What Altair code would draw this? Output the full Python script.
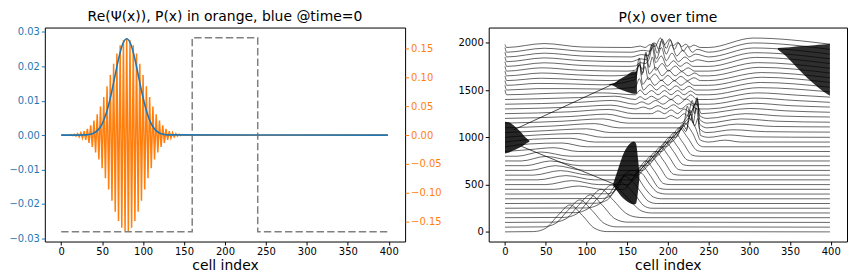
import altair as alt
import pandas as pd

# ---------------- left panel data ----------------
P_X = [0, 30, 35, 40, 45, 50, 55, 60, 65, 70, 75, 80, 85, 90, 95, 100, 105, 110, 115, 120, 125, 130, 399]
P_Y = [0, 0.00007, 0.00023, 0.00062, 0.00152, 0.00329, 0.00633, 0.01082, 0.01640, 0.02208, 0.02638, 0.02800,
       0.02638, 0.02208, 0.01640, 0.01082, 0.00633, 0.00329, 0.00152, 0.00062, 0.00023, 0.00007, 0]

RE_X = [0] + list(range(10, 152, 2)) + [399]
RE_Y = [0,
        -0.0005, 0.0007, -0.0009, 0.0013, -0.0017, 0.0023, -0.0031, 0.0040, -0.0052, 0.0067,
        -0.0085, 0.0108, -0.0135, 0.0167, -0.0205, 0.0249, -0.0300, 0.0357, -0.0422, 0.0494,
        -0.0572, 0.0657, -0.0747, 0.0842, -0.0939, 0.1038, -0.1136, 0.1231, -0.1323, 0.1407,
        -0.1483, 0.1548, -0.1600, 0.1638, -0.1662, 0.1670, -0.1662, 0.1638, -0.1600, 0.1548,
        -0.1483, 0.1407, -0.1323, 0.1231, -0.1136, 0.1038, -0.0939, 0.0842, -0.0747, 0.0657,
        -0.0572, 0.0494, -0.0422, 0.0357, -0.0300, 0.0249, -0.0205, 0.0167, -0.0135, 0.0108,
        -0.0085, 0.0067, -0.0052, 0.0040, -0.0031, 0.0023, -0.0017, 0.0013, -0.0009, 0.0007,
        -0.0005,
        0]

V_X = [0, 160, 160, 240, 240, 399]
V_Y = [-0.167, -0.167, 0.168, 0.168, -0.167, -0.167]

LEFT_TICKS = [-0.03, -0.02, -0.01, 0.0, 0.01, 0.02, 0.03]
RIGHT_TICKS = [-0.15, -0.10, -0.05, 0.0, 0.05, 0.10, 0.15]
X_TICKS = [0, 50, 100, 150, 200, 250, 300, 350, 400]
WF_TICKS = [0, 500, 1000, 1500, 2000]

# ---------------- right panel data ----------------
OFFSETS = [0, 50, 100, 150, 200, 250, 300, 350, 400, 450, 500, 550, 600, 650, 700, 750, 800, 850, 900, 950,
           1000, 1050, 1100, 1150, 1200, 1250, 1300, 1350, 1400, 1450, 1500, 1550, 1600, 1650, 1700, 1750,
           1800, 1850, 1900, 1950]

# (cell, height above the curve's offset) key points
CURVES = [
    [(35, 3), (50, 38), (65, 174), (80, 285), (95, 174), (110, 38), (125, 3)],
    [(47, 3), (62, 39), (77, 175), (92, 288), (107, 175), (122, 39), (137, 3)],
    [(60, 3), (75, 39), (90, 178), (105, 292), (120, 178), (135, 39), (150, 3)],
    [(73, 3), (88, 40), (103, 183), (118, 300), (133, 185), (148, 50), (160, 8), (172, 0)],
    [(86, 3), (101, 40), (116, 180), (131, 295), (146, 200), (158, 90), (168, 20), (180, 0)],
    [(100, 3), (115, 40), (128, 150), (140, 280), (150, 230), (160, 140), (170, 30), (180, 0)],
    [(112, 3), (126, 40), (136, 160), (146, 290), (156, 240), (166, 130), (176, 25), (186, 0)],
    [(120, 3), (132, 50), (142, 200), (152, 260), (162, 230), (172, 110), (182, 20), (192, 0)],
    [(126, 3), (138, 60), (148, 220), (158, 250), (168, 220), (178, 100), (188, 15), (198, 0)],
    [(60, 0), (90, 35), (120, 0), (146, 0), (157, 120), (168, 250), (178, 150), (190, 10), (198, 0)],
    [(50, 0), (82, 42), (115, 0), (151, 0), (162, 120), (173, 250), (183, 150), (195, 10), (203, 0)],
    [(40, 0), (75, 45), (110, 0), (157, 0), (168, 120), (179, 250), (189, 150), (201, 10), (209, 0)],
    [(35, 0), (68, 48), (104, 0), (163, 0), (174, 120), (185, 250), (195, 150), (207, 10), (215, 0)],
    [(30, 0), (62, 50), (98, 0), (169, 0), (180, 120), (191, 250), (201, 150), (213, 10), (221, 0)],
    [(25, 0), (56, 50), (92, 0), (175, 0), (186, 120), (197, 250), (207, 150), (219, 10), (227, 0)],
    [(20, 0), (50, 48), (86, 0), (180, 0), (191, 120), (202, 250), (212, 150), (224, 10), (232, 0)],
    [(15, 0), (44, 45), (80, 0), (186, 0), (197, 120), (208, 250), (218, 150), (230, 10), (238, 0)],
    [(30, 20), (60, 40), (90, 0), (192, 0), (203, 120), (214, 250), (224, 150), (236, 10), (242, 0)],
    [(30, 30), (70, 40), (100, 0), (198, 0), (209, 120), (220, 250), (230, 150), (238, 20), (244, 0)],
    [(35, 30), (80, 40), (110, 0), (204, 0), (215, 120), (226, 250), (234, 150), (240, 20), (250, 0), (270, 20), (290, 0)],
    [(40, 25), (90, 40), (120, 0), (210, 0), (218, 100), (222, 60), (228, 250), (233, 120), (237, 200), (240, 20), (250, 0), (275, 25), (305, 5), (399, 0)],
    [(50, 20), (100, 40), (130, 0), (212, 0), (219, 80), (223, 30), (227, 240), (231, 100), (235, 260), (239, 40), (248, 0), (280, 30), (320, 10), (399, 5)],
    [(60, 20), (110, 45), (140, 0), (214, 0), (220, 60), (224, 230), (228, 80), (232, 210), (236, 290), (239, 40), (248, 0), (285, 40), (330, 15), (399, 10)],
    [(70, 20), (120, 45), (150, 0), (216, 0), (222, 50), (226, 120), (230, 240), (233, 100), (236, 260), (239, 40), (248, 0), (290, 45), (335, 20), (399, 10)],
    [(80, 20), (125, 45), (155, 0), (196, 0), (204, 30), (212, 0), (220, 50), (226, 20), (230, 90), (233, 150), (236, 220), (239, 30), (248, 0), (295, 50), (340, 25), (399, 15)],
    [(80, 20), (128, 45), (158, 0), (180, 0), (188, 30), (196, 0), (204, 40), (212, 0), (220, 50), (228, 10), (234, 110), (238, 60), (241, 0), (300, 55), (345, 30), (399, 15)],
    [(85, 20), (130, 40), (160, 0), (170, 20), (178, 0), (188, 35), (197, 0), (207, 45), (216, 0), (226, 55), (236, 0), (250, 0), (305, 60), (350, 35), (399, 20)],
    [(90, 20), (132, 40), (160, 0), (168, 25), (176, 0), (185, 40), (194, 0), (204, 50), (213, 0), (223, 55), (232, 0), (250, 0), (308, 65), (355, 40), (399, 20)],
    [(90, 20), (135, 35), (160, 0), (166, 30), (172, 0), (180, 35), (188, 0), (196, 40), (204, 0), (212, 45), (220, 0), (228, 50), (236, 0), (250, 0), (310, 70), (360, 45), (399, 25)],
    [(0, 50), (2, 0), (40, 10), (80, 20), (120, 20), (160, 0), (166, 50), (172, 0), (180, 45), (188, 0), (196, 45), (204, 0), (212, 45), (220, 0), (228, 40), (236, 0), (250, 0), (312, 75), (399, 30)],
    [(0, 50), (2, 0), (40, 15), (80, 15), (120, 10), (160, 30), (165, 120), (170, 0), (178, 60), (186, 0), (194, 50), (202, 0), (210, 45), (218, 0), (226, 40), (234, 0), (250, 0), (314, 80), (399, 30)],
    [(0, 50), (2, 0), (40, 20), (80, 15), (120, 5), (160, 60), (165, 230), (169, 10), (176, 80), (184, 0), (192, 55), (200, 0), (208, 50), (216, 0), (224, 40), (232, 0), (250, 0), (315, 85), (399, 30)],
    [(0, 50), (2, 0), (45, 25), (90, 10), (130, 0), (160, 40), (165, 240), (168, 60), (172, 150), (176, 10), (184, 70), (192, 0), (200, 55), (208, 0), (216, 45), (224, 0), (232, 30), (240, 0), (250, 0), (315, 85), (399, 30)],
    [(0, 50), (2, 0), (45, 30), (90, 10), (130, 0), (160, 20), (165, 120), (169, 30), (173, 230), (177, 20), (185, 90), (193, 0), (201, 60), (209, 0), (217, 45), (225, 0), (233, 30), (240, 0), (250, 0), (312, 90), (399, 30)],
    [(0, 50), (2, 0), (45, 35), (90, 10), (150, 0), (160, 10), (165, 60), (169, 20), (173, 200), (177, 40), (181, 150), (185, 10), (193, 80), (201, 0), (209, 55), (217, 0), (225, 35), (233, 0), (250, 0), (310, 90), (399, 30)],
    [(0, 50), (2, 0), (48, 38), (95, 10), (150, 0), (160, 5), (166, 40), (172, 30), (177, 80), (181, 200), (185, 40), (192, 110), (199, 0), (207, 60), (215, 0), (223, 40), (231, 0), (250, 0), (308, 95), (399, 30)],
    [(0, 50), (2, 0), (48, 40), (95, 10), (155, 0), (167, 30), (174, 20), (181, 190), (186, 30), (192, 150), (198, 10), (205, 90), (213, 0), (221, 50), (229, 0), (236, 20), (250, 0), (306, 95), (399, 30)],
    [(0, 50), (2, 0), (48, 40), (95, 10), (155, 0), (168, 25), (176, 15), (182, 150), (187, 40), (192, 170), (198, 30), (204, 130), (211, 10), (218, 70), (226, 0), (234, 30), (250, 0), (305, 95), (399, 30)],
    [(0, 50), (2, 0), (48, 42), (95, 10), (155, 0), (170, 20), (178, 10), (184, 100), (189, 30), (193, 140), (198, 40), (203, 130), (208, 30), (213, 100), (219, 10), (224, 60), (230, 0), (236, 30), (250, 0), (305, 98), (399, 30)],
    [(0, 32), (2, 0), (48, 42), (95, 5), (155, 0), (166, 15), (172, 0), (178, 30), (184, 10), (191, 100), (196, 30), (202, 90), (207, 20), (212, 55), (217, 10), (222, 35), (227, 5), (232, 25), (240, 0), (250, 0), (305, 100), (399, 35)],
]

# dense, fast-oscillating patches drawn as filled envelopes: (patch id, cell, low, high)
BLOB_ID = ["A"] * 9 + ["B"] * 7 + ["C"] * 6 + ["D"] * 7
BLOB_X = [133, 138, 143, 148, 153, 158, 161, 163, 165,
          0, 5, 10, 15, 20, 25, 30,
          128, 133, 140, 150, 158, 162,
          335, 345, 355, 365, 380, 390, 399]
BLOB_LO = [485, 430, 375, 335, 305, 290, 300, 400, 560,
           830, 840, 860, 880, 900, 930, 952,
           1555, 1545, 1510, 1480, 1462, 1462,
           1930, 1860, 1770, 1680, 1560, 1490, 1440]
BLOB_HI = [515, 640, 770, 870, 930, 955, 930, 800, 620,
           1165, 1160, 1130, 1090, 1050, 1000, 965,
           1565, 1570, 1610, 1660, 1695, 1695,
           1945, 1950, 1958, 1965, 1975, 1982, 1990]
BLOB_NAMES = ["A", "B", "C", "D"]
BLOB_ALPHA = [0.86, 0.82, 0.82, 0.6]

# thin diagonal traces of the narrow reflected / transmitted fronts: (trace id, cell, value)
TRACE_ID = ["r1", "r1", "r2", "r2", "r3", "r3"]
TRACE_X = [137, 20, 11, 141, 161, 226]
TRACE_V = [495, 905, 1080, 1596, 615, 1175]

# ---------------- build tables ----------------
re_df = pd.DataFrame({"x": RE_X, "y": RE_Y})
p_df = pd.DataFrame({"x": P_X, "y": P_Y})
v_df = pd.DataFrame({"x": V_X, "y": V_Y})

rows = []
for i, (off, pts) in enumerate(zip(OFFSETS, CURVES)):
    xs = [p[0] for p in pts]
    full = list(pts)
    if 0 not in xs:
        full = [(0, 0)] + full
    if 399 not in xs:
        full = full + [(399, 0)]
    for order, (cx, dy) in enumerate(full):
        rows.append({"curve": i, "order": order, "x": cx, "y": off + dy})
wf_df = pd.DataFrame(rows)
blob_df = pd.DataFrame({"blob": BLOB_ID, "x": BLOB_X, "lo": BLOB_LO, "hi": BLOB_HI})
trace_df = pd.DataFrame({"t": TRACE_ID, "x": TRACE_X, "y": TRACE_V})

BLUE = "#1f77b4"
ORANGE = "#ff7f0e"
FONT = "DejaVu Sans"

xscale = alt.Scale(domain=[-20, 420], nice=False, zero=False)
xaxis = alt.Axis(values=X_TICKS, title="cell index", format="d")
rscale = alt.Scale(domain=[-0.1838, 0.1856], nice=False, zero=False)

orange = alt.Chart(re_df).mark_line(color=ORANGE, strokeWidth=1.5).encode(
    x=alt.X("x:Q", scale=xscale, axis=xaxis),
    y=alt.Y("y:Q", scale=rscale,
            axis=alt.Axis(orient="right", values=RIGHT_TICKS, format=".2f", title=None,
                          labelColor=ORANGE, tickColor=ORANGE)),
)
dashed = alt.Chart(v_df).mark_line(color="#808080", strokeWidth=1.5, strokeDash=[7.4, 3.2]).encode(
    x=alt.X("x:Q", scale=xscale, axis=xaxis),
    y=alt.Y("y:Q", scale=rscale, axis=None),
)
blue = alt.Chart(p_df).mark_line(color=BLUE, strokeWidth=1.6, interpolate="monotone").encode(
    x=alt.X("x:Q", scale=xscale, axis=xaxis),
    y=alt.Y("y:Q", scale=alt.Scale(domain=[-0.0309, 0.03125], nice=False, zero=False),
            axis=alt.Axis(orient="left", values=LEFT_TICKS, format=".2f", title=None,
                          labelColor=BLUE, tickColor=BLUE)),
)
left = alt.layer(orange, dashed, blue).resolve_scale(y="independent").properties(
    width=362, height=215,
    title=alt.TitleParams("Re(Ψ(x)), P(x) in orange, blue @time=0", fontSize=14, fontWeight="normal",
                          font=FONT, offset=3),
)

ywf = alt.Scale(domain=[-102, 2161], nice=False, zero=False)
yaxis_wf = alt.Axis(values=WF_TICKS, title=None, format="d")
blobs = alt.Chart(blob_df).mark_area(color="black", interpolate="monotone").encode(
    x=alt.X("x:Q", scale=xscale, axis=xaxis),
    y=alt.Y("lo:Q", scale=ywf, axis=yaxis_wf),
    y2="hi:Q",
    detail="blob:N",
    opacity=alt.Opacity("blob:N", scale=alt.Scale(domain=BLOB_NAMES, range=BLOB_ALPHA), legend=None),
)
lines = alt.Chart(wf_df).mark_line(color="black", strokeWidth=0.6, interpolate="monotone").encode(
    x=alt.X("x:Q", scale=xscale, axis=xaxis),
    y=alt.Y("y:Q", scale=ywf, axis=yaxis_wf),
    detail="curve:N",
    order="order:Q",
)
traces = alt.Chart(trace_df).mark_line(color="black", strokeWidth=0.7).encode(
    x=alt.X("x:Q", scale=xscale, axis=xaxis),
    y=alt.Y("y:Q", scale=ywf, axis=yaxis_wf),
    detail="t:N",
)
right = alt.layer(blobs, lines, traces).properties(
    width=360, height=215,
    title=alt.TitleParams("P(x) over time", fontSize=14, fontWeight="normal", font=FONT, offset=3),
)

chart = alt.hconcat(left, right, spacing=15).properties(padding=0).configure(font=FONT).configure_view(
    stroke="black", strokeWidth=1
).configure_axis(
    grid=False, domain=False, labelFont=FONT, labelFontSize=10, titleFont=FONT, titleFontSize=14,
    titleFontWeight="normal", tickSize=3.5, labelPadding=2, tickColor="black", labelColor="black",
    titleColor="black", titlePadding=2,
)

chart.save("out.html", embed_options={"renderer": "svg", "actions": False})
